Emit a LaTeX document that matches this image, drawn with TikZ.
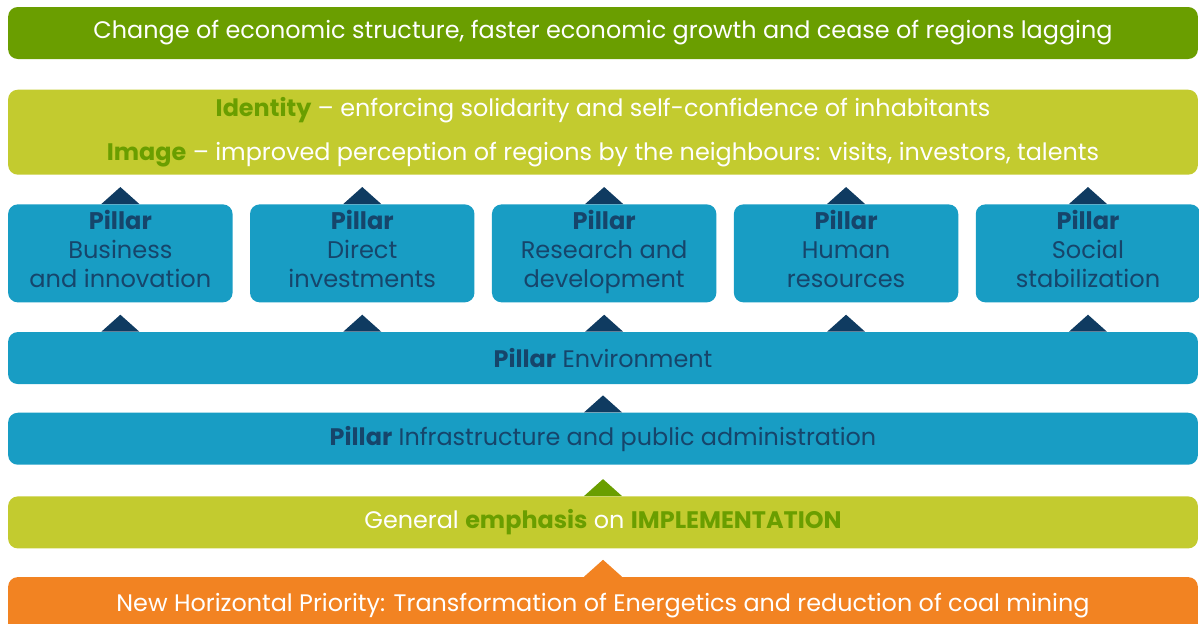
\documentclass[tikz,border=0pt]{standalone}
\usepackage{fontspec}
\setmainfont{Poppins}
\usetikzlibrary{positioning,calc}

\definecolor{leafgreen}{RGB}{106,158,0}
\definecolor{limegreen}{RGB}{195,203,47}
\definecolor{pillarblue}{RGB}{24,157,196}
\definecolor{navytext}{RGB}{22,69,107}
\definecolor{navytip}{RGB}{15,59,97}
\definecolor{energyorange}{RGB}{242,131,34}

\begin{document}
\begin{tikzpicture}[x=0.02cm,y=-0.02cm]

\tikzstyle{band}=[rounded corners=5.5pt, inner sep=0pt, minimum width=23.8cm, minimum height=1.04cm, text=white, font=\fontsize{13.6}{16}\selectfont]
\tikzstyle{pillar}=[band, fill=pillarblue, text=navytext, minimum width=4.49cm, minimum height=1.96cm, align=center, font=\fontsize{13.7}{16.4}\selectfont]
\newcommand{\hl}[1]{{\bfseries\color{leafgreen}#1}}
\newcommand{\uptip}[2]{\fill[#1] ($(#2)+(-19,0)$) -- ($(#2)+(19,0)$) -- ($(#2)+(0,-17)$) -- cycle;}

\useasboundingbox (0,0) rectangle (1199,623);

\node [band, fill=leafgreen] (goal) at (603,33) {Change of economic structure, faster economic growth and cease of regions lagging};

\node [band, fill=limegreen, minimum height=1.7cm, align=center, font=\fontsize{13.6}{25}\selectfont, below=0.6cm of goal] (ident)
  {\hl{Identity} – enforcing solidarity and self-confidence of inhabitants\\
   \hl{Image} – improved perception of regions by the neighbours: visits, investors, talents};

\node [pillar, below=0.58cm of ident.south west, anchor=north west] (pil1) {\textbf{Pillar}\\Business\\and innovation\strut};
\node [pillar, right=0.335cm of pil1] (pil2) {\textbf{Pillar}\\Direct\\investments\strut};
\node [pillar, right=0.335cm of pil2] (pil3) {\textbf{Pillar}\\Research and\\development\strut};
\node [pillar, right=0.335cm of pil3] (pil4) {\textbf{Pillar}\\Human\\resources\strut};
\node [pillar, right=0.335cm of pil4] (pil5) {\textbf{Pillar}\\Social\\stabilization\strut};

\node [band, fill=pillarblue, text=navytext, below=0.58cm of ident.south |- pil1.south] (env) {\textbf{Pillar} Environment};
\node [band, fill=pillarblue, text=navytext, below=0.56cm of env] (infra) {\textbf{Pillar} Infrastructure and public administration};
\node [band, fill=limegreen, below=0.62cm of infra] (impl) {General \hl{emphasis} on \hl{IMPLEMENTATION}};
\node [band, fill=energyorange, minimum height=1.12cm, below=0.56cm of impl] (coal) {New Horizontal Priority: Transformation of Energetics and reduction of coal mining};

% tips pointing upwards
\foreach \i in {1,...,5} {
  \uptip{navytip}{pil\i.north}
  \uptip{navytip}{env.north -| pil\i.north}
}
\uptip{navytip}{infra.north}
\uptip{leafgreen}{impl.north}
\uptip{energyorange}{coal.north}

\end{tikzpicture}
\end{document}
